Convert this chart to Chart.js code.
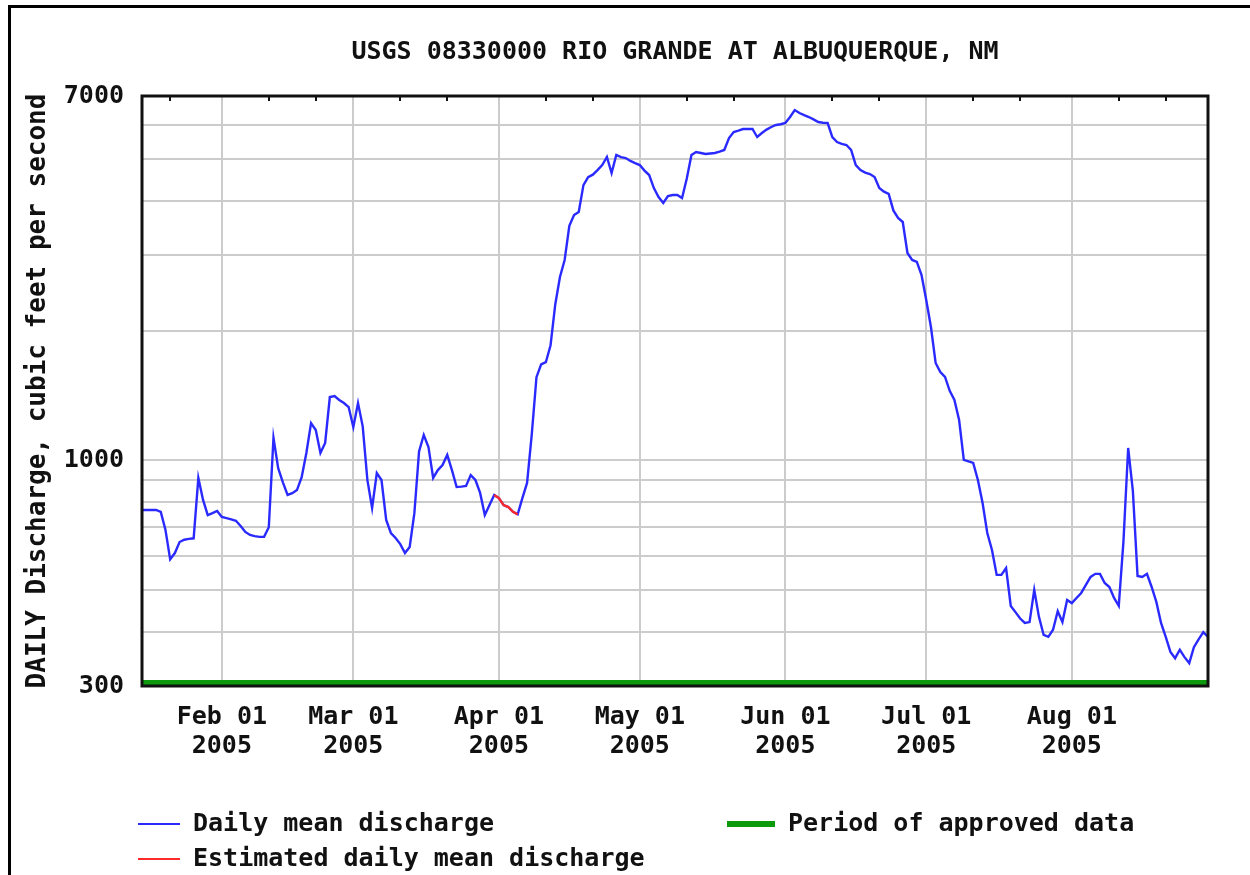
<!DOCTYPE html>
<html lang="en">
  <head>
    <meta charset="UTF-8">
    <title>USGS 08330000 Rio Grande at Albuquerque</title>
    <script src="https://cdn.jsdelivr.net/npm/chart.js@4.4.0/dist/chart.umd.min.js"></script>
    <style>
      body { margin: 0; background: #fff; }
      #wrap { position: relative; width: 1250px; height: 875px; overflow: hidden; }
      #frame { position: absolute; left: 8px; top: 5px; width: 1250px; height: 900px; border: 3px solid #000; pointer-events: none; }
    </style>
    <script>
      // days counted from Jan 1 2005 (Jan 15 = 14)
      const firstDay = 14;
      const lastDay = 241;
      // daily mean discharge, cfs, Jan 15 .. Aug 30
      const dailyMean = [
        768, 768, 768, 768, 760, 690, 590, 610, 647, 655,
        658, 660, 911, 810, 747, 755, 764, 740, 735, 730,
        725, 705, 683, 672, 668, 665, 665, 700, 1128, 960,
        890, 832, 840, 854, 915, 1041, 1221, 1177, 1041, 1098,
        1403, 1411, 1381, 1359, 1330, 1196, 1359, 1200, 900, 776,
        935, 901, 728, 679, 661, 640, 610, 630, 755, 1050,
        1146, 1075, 911, 950, 976, 1030, 950, 868, 870, 873,
        925, 901, 841, 747, 788, 832, 818, 788, 780, 760,
        750, 818, 887, 1150, 1560, 1670, 1690, 1850, 2300, 2663,
        2917, 3500, 3708, 3768, 4350, 4541, 4600, 4714, 4842, 5054,
        4639, 5108, 5050, 5027, 4950, 4894, 4842, 4700, 4590, 4282,
        4082, 3954, 4104, 4126, 4126, 4060, 4500, 5108, 5191, 5163,
        5135, 5150, 5163, 5200, 5247, 5594, 5776, 5820, 5869, 5869,
        5869, 5623, 5745, 5850, 5932, 5996, 6020, 6060, 6257, 6494,
        6392, 6320, 6257, 6180, 6092, 6070, 6060, 5623, 5475, 5420,
        5389, 5247, 4842, 4714, 4650, 4614, 4541, 4282, 4200, 4150,
        3800, 3650, 3573, 3028, 2917, 2886, 2692, 2355, 2039, 1683,
        1604, 1562, 1450, 1381, 1241, 1003, 995, 987, 901, 797,
        679, 620, 543, 543, 563, 460, 445, 430, 420, 422,
        501, 434, 394, 390, 405, 447, 422, 475, 467, 480,
        493, 515, 537, 546, 546, 520, 509, 480, 460, 650,
        1069, 850, 540, 537, 546, 509, 470, 420, 390, 360,
        348, 364, 350, 339, 369, 385, 400, 390
      ];
      // estimated values, Mar 31 .. Apr 5
      const estimatedFirstDay = 89;
      const estimatedMean = [832, 818, 788, 780, 760, 750];
      // approved period shown along the floor of the axis
      const approvedDays = [14, 241];
      const approvedFloor = 300;

      const monthDays = [31, 59, 90, 120, 151, 181, 212];
      const monthLabels = ['Feb 01', 'Mar 01', 'Apr 01', 'May 01', 'Jun 01', 'Jul 01', 'Aug 01'];
      const yearLabel = '2005';
      // 11th and 21st of each month, small marks on the top edge
      const minorTickDays = [20, 41, 51, 69, 79, 100, 110, 130, 140, 161, 171, 191, 201, 222, 232];
      const yTicks = [300, 400, 500, 600, 700, 800, 900, 1000, 2000, 3000, 4000, 5000, 6000, 7000];
      const yLabelled = [300, 1000, 7000];

      const chartTitle = 'USGS 08330000 RIO GRANDE AT ALBUQUERQUE, NM';
      const yTitle = 'DAILY Discharge, cubic feet per second';

      const mono = "'DejaVu Sans Mono', 'Liberation Mono', monospace";

      window.onload = function () {
        const dailyPoints = dailyMean.map((v, i) => ({ x: firstDay + i, y: v }));
        const estPoints = estimatedMean.map((v, i) => ({ x: estimatedFirstDay + i, y: v }));
        const approvedPoints = approvedDays.map(d => ({ x: d, y: approvedFloor }));

        const titlePlugin = {
          id: 'usgsTitle',
          afterDraw(chart) {
            const c = chart.ctx;
            const a = chart.chartArea;
            c.save();
            c.font = 'bold 25px ' + mono;
            c.fillStyle = '#111';
            c.textAlign = 'center';
            c.textBaseline = 'middle';
            c.fillText(chartTitle, (a.left + a.right) / 2, 52);
            c.restore();
          }
        };

        const framePlugin = {
          id: 'plotFrame',
          afterDatasetsDraw(chart) {
            const c = chart.ctx;
            const a = chart.chartArea;
            const xs = chart.scales.x;
            c.save();
            c.strokeStyle = '#111';
            c.lineWidth = 3;
            c.strokeRect(a.left, a.top, a.right - a.left, a.bottom - a.top);
            c.lineWidth = 2;
            c.beginPath();
            minorTickDays.forEach(d => {
              const px = Math.round(xs.getPixelForValue(d));
              c.moveTo(px, a.top);
              c.lineTo(px, a.top + 5);
            });
            c.stroke();
            c.restore();
          }
        };

        // legend laid out in two columns like the USGS plot
        const legendPlugin = {
          id: 'usgsLegend',
          afterDraw(chart) {
            const c = chart.ctx;
            const ds = chart.data.datasets;
            const items = [
              { d: ds[1], x: 138, y: 824, len: 42, w: 2 },
              { d: ds[0], x: 138, y: 859, len: 42, w: 2 },
              { d: ds[2], x: 727, y: 824, len: 48, w: 6 }
            ];
            c.save();
            c.font = 'bold 25px ' + mono;
            c.textBaseline = 'middle';
            c.textAlign = 'left';
            items.forEach(it => {
              c.strokeStyle = it.d.borderColor;
              c.lineWidth = it.w;
              c.beginPath();
              c.moveTo(it.x, it.y);
              c.lineTo(it.x + it.len, it.y);
              c.stroke();
              c.fillStyle = '#111';
              c.fillText(it.d.label, it.x + it.len + 13, it.y);
            });
            c.restore();
          }
        };

        const ctx = document.getElementById('flow_chart').getContext('2d');
        new Chart(ctx, {
          type: 'line',
          data: {
            datasets: [
              {
                label: 'Estimated daily mean discharge',
                data: estPoints,
                borderColor: '#ff2a2a',
                borderWidth: 2.4,
                pointRadius: 0,
                order: 0
              },
              {
                label: 'Daily mean discharge',
                data: dailyPoints,
                borderColor: '#2a2aff',
                borderWidth: 2.4,
                pointRadius: 0,
                order: 1
              },
              {
                label: 'Period of approved data',
                data: approvedPoints,
                borderColor: '#0c9a0c',
                borderWidth: 12,
                pointRadius: 0,
                clip: 0,
                order: 2
              }
            ]
          },
          options: {
            responsive: false,
            animation: false,
            layout: { padding: { top: 96, right: 42, bottom: 0, left: 0 } },
            plugins: {
              legend: { display: false },
              title: { display: false },
              tooltip: { enabled: false }
            },
            scales: {
              x: {
                type: 'linear',
                min: firstDay,
                max: lastDay,
                afterBuildTicks: s => { s.ticks = monthDays.map(v => ({ value: v })); },
                afterFit: s => { s.height = 189; },
                border: { display: false },
                grid: { color: '#cccccc', lineWidth: 2, drawTicks: false },
                ticks: {
                  autoSkip: false,
                  maxRotation: 0,
                  padding: 17,
                  color: '#111',
                  font: { family: mono, size: 25, weight: 'bold', lineHeight: 1.15 },
                  callback: v => {
                    const i = monthDays.indexOf(v);
                    return i < 0 ? '' : [monthLabels[i], yearLabel];
                  }
                }
              },
              y: {
                type: 'logarithmic',
                min: 300,
                max: 7000,
                afterBuildTicks: s => { s.ticks = yTicks.map(v => ({ value: v })); },
                afterFit: s => { s.width = 142; },
                border: { display: false },
                grid: { color: '#cccccc', lineWidth: 2, drawTicks: false },
                title: {
                  display: true,
                  text: yTitle,
                  color: '#111',
                  font: { family: mono, size: 26, weight: 'bold', lineHeight: 1.2 },
                  padding: { top: 23, bottom: 0 }
                },
                ticks: {
                  autoSkip: false,
                  padding: 18,
                  color: '#111',
                  font: { family: mono, size: 25, weight: 'bold' },
                  callback: v => yLabelled.includes(v) ? String(v) : ''
                }
              }
            }
          },
          plugins: [titlePlugin, framePlugin, legendPlugin]
        });
      };
    </script>
  </head>
  <body>
    <div id="wrap">
      <canvas id="flow_chart" width="1250" height="875"></canvas>
      <div id="frame"></div>
    </div>
  </body>
</html>
